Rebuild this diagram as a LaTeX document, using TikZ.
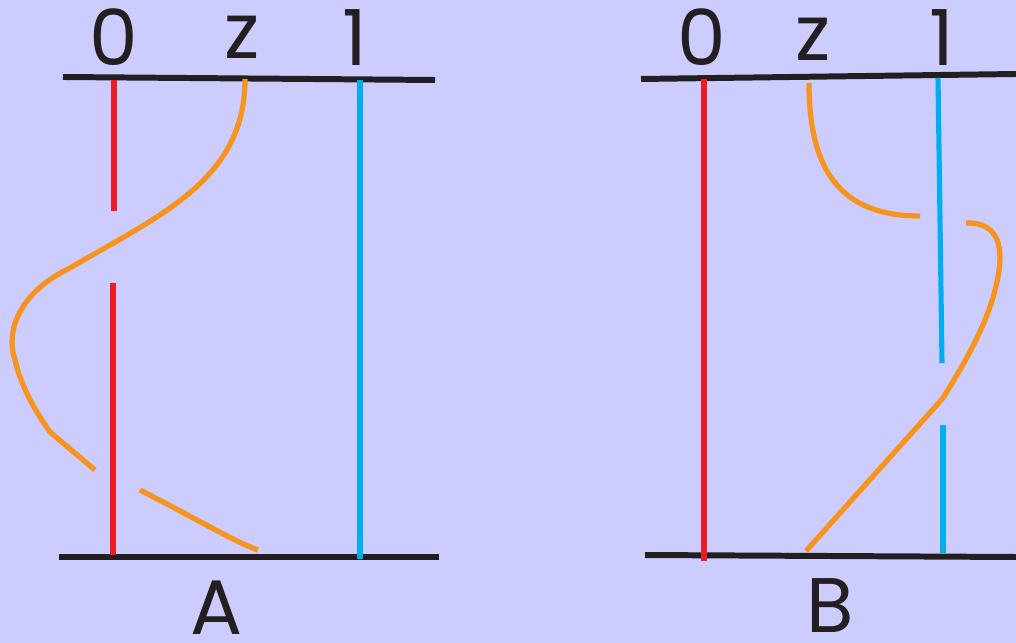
\documentclass[tikz,border=0pt]{standalone}
\usepackage{fontspec}
\setmainfont{Poppins}
\usepackage{tikz}
\definecolor{BgLav}{RGB}{204,204,255}
\definecolor{InkBlack}{RGB}{35,31,32}
\definecolor{StrRed}{RGB}{237,28,36}
\definecolor{StrBlue}{RGB}{0,174,239}
\definecolor{StrOrange}{RGB}{247,148,29}

\begin{document}
\begin{tikzpicture}[x=0.01cm, y=-0.01cm,
      bar/.style={draw=InkBlack, line width=1.7pt},
      redstr/.style={draw=StrRed, line width=1.45pt},
      bluestr/.style={draw=StrBlue, line width=1.45pt},
      orgstr/.style={draw=StrOrange, line width=1.5pt},
      lbl/.style={anchor=base, inner sep=0pt, text=InkBlack, font=\fontsize{22}{24}\selectfont}
    ]
    \useasboundingbox (0,0) rectangle (1016,643);
    \fill[BgLav] (0,0) rectangle (1016,643);

    % panel A
    \draw[bar] (63,77) -- (435,80);
    \draw[bar] (59,557) -- (439,557);
    \draw[redstr] (114,80) -- (114,211);
    \draw[redstr] (113,283) -- (113,555);
    \draw[bluestr] (360,80) -- (360,559);
    \draw[orgstr] (245,79) .. controls (245,180) and (160,215) .. (70,268)
          .. controls (20,292) and (5,330) .. (15,360)
          .. controls (22,390) and (38,415) .. (50,432) -- (95,470);
    \draw[orgstr] (140,490) .. controls (195,518) and (235,542) .. (258,550);

    \node[lbl] (a0) at (114,66) {0};
    \node[lbl] (az) at (242,59) {z};
    \node[lbl] (a1) at (355,66) {1};
    \node[lbl] (capA) at (217,634) {A};

    % panel B
    \draw[bar] (641,79) -- (1016,74);
    \draw[bar] (645,555) -- (1016,557);
    \draw[redstr] (704,79) -- (704,561);
    \draw[bluestr] (938,78) -- (942,363);
    \draw[bluestr] (943,425) -- (943,553);
    \draw[orgstr] (809,83) .. controls (809,170) and (840,216) .. (920,216);
    \draw[orgstr] (966,223) .. controls (1002,222) and (1005,252) .. (995,290)
          .. controls (985,330) and (960,370) .. (943,398) -- (806,551);

    \node[lbl] (b0) at (702,66) {0};
    \node[lbl] (bz) at (813,61) {z};
    \node[lbl] (b1) at (942,66) {1};
    \node[lbl] (capB) at (830,632) {B};
\end{tikzpicture}
\end{document}
